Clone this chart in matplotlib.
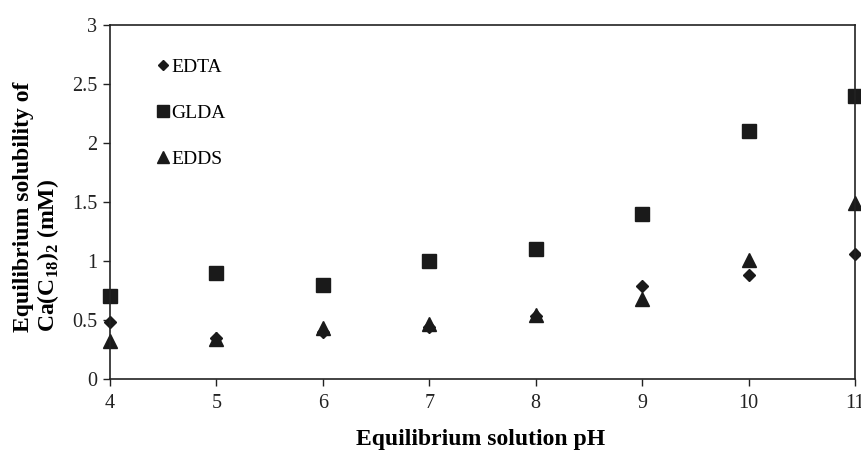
import numpy as np
import matplotlib.pyplot as plt

plt.rcParams['font.family'] = ['Liberation Serif', 'DejaVu Serif']
plt.rcParams['mathtext.fontset'] = 'custom'
plt.rcParams['mathtext.rm'] = 'Liberation Serif'
plt.rcParams['mathtext.bf'] = 'Liberation Serif:bold'

ph = [4, 5, 6, 7, 8, 9, 10, 11]
edta = [0.48, 0.35, 0.40, 0.44, 0.53, 0.79, 0.88, 1.06]
glda = [0.70, 0.90, 0.80, 1.00, 1.10, 1.40, 2.10, 2.40]
edds = [0.32, 0.34, 0.43, 0.47, 0.54, 0.68, 1.01, 1.49]
yticks = [0, 0.5, 1, 1.5, 2, 2.5, 3]
ytick_labels = ['0', '0.5', '1', '1.5', '2', '2.5', '3']

fig = plt.figure(figsize=(8.62, 4.51), dpi=100)
ax = fig.add_axes([110 / 862, 1 - 379 / 451, 745 / 862, 354 / 451])

ax.plot(ph, edta, 'D', color='#1a1a1a', markersize=6.3, label='EDTA', clip_on=False, zorder=3)
ax.plot(ph, glda, 's', color='#1a1a1a', markersize=9.5, label='GLDA', clip_on=False, zorder=3)
ax.plot(ph, edds, '^', color='#1a1a1a', markersize=10, label='EDDS', clip_on=False, zorder=3)

ax.set_xlim(4, 11)
ax.set_ylim(0, 3)
ax.set_xticks(ph)
ax.set_yticks(yticks)
ax.set_yticklabels(ytick_labels)
ax.tick_params(direction='out', length=5, width=1, labelsize=14.5, colors='#222222', pad=6)
ax.tick_params(axis='y', pad=4)
for s in ax.spines.values():
    s.set_linewidth(1.2)
    s.set_color('#222222')
    s.set_zorder(4)

leg = ax.legend(loc='upper left', bbox_to_anchor=(0.063, 0.905), frameon=False,
                borderaxespad=0, borderpad=0,
                fontsize=14, handlelength=0.6, handletextpad=0.15,
                labelspacing=1.45, markerscale=0.85)

fig.text(481 / 862, 1 - 440 / 451, 'Equilibrium solution pH', ha='center', va='center',
         fontsize=17, fontweight='bold')
fig.text(0.043, 1 - 332 / 451, 'Equilibrium solubility of\nCa(C$_{\\mathbf{18}}$)$_{\\mathbf{2}}$ (mM)',
         rotation=90, ha='center', va='bottom', multialignment='left',
         fontsize=17, fontweight='bold', linespacing=1.1)

fig.savefig('out.png', dpi=100)
